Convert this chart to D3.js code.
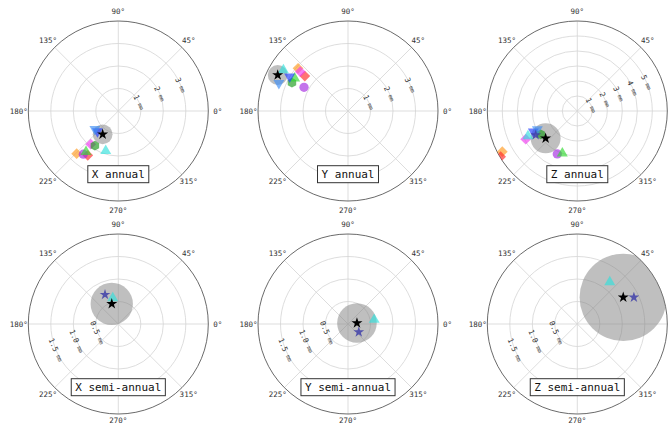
<!DOCTYPE html>
<html><head><meta charset="utf-8">
<script src="https://cdn.jsdelivr.net/npm/d3@7"></script>
<style>
html,body{margin:0;padding:0;background:#fff;}
svg{display:block;}
text{font-family:"DejaVu Sans Mono",monospace;}
</style>
</head><body>
<svg id="chart" width="668" height="426"></svg>
<script>
// ---------- data ----------
const panelTitles = ["X annual", "Y annual", "Z annual", "X semi-annual", "Y semi-annual", "Z semi-annual"];
const panelRMax = [4, 4, 6, 2, 2, 2];
const panelRTicks = [[1, 2, 3], [1, 2, 3], [1, 2, 3, 4, 5], [0.5, 1.0, 1.5], [0.5, 1.0, 1.5], [0.5, 1.0, 1.5]];
const panelRTickLabels = [
  ["1", "2", "3"], ["1", "2", "3"], ["1", "2", "3", "4", "5"],
  ["0.5", "1.0", "1.5"], ["0.5", "1.0", "1.5"], ["0.5", "1.0", "1.5"]
];
const radialUnit = "mm";
const angleTicks = [0, 45, 90, 135, 180, 225, 270, 315];
const angleTickLabels = ["0°", "45°", "90°", "135°", "180°", "225°", "270°", "315°"];

// series (drawing order)
const seriesNames = ["orange", "red", "purple", "magenta", "green hex", "green tri", "blue", "light blue", "cyan", "slate"];
const seriesShapes = ["diamond", "diamond", "circle", "diamond", "hexagon", "triangle", "triangleDown", "triangleDown", "triangle", "star"];
const seriesColors = ["#ff9a1f", "#ff2a2a", "#a52ae0", "#f03cf0", "#1a9a1a", "#2ed82e", "#1f3cff", "#3b8cf5", "#2fe0dc", "#4040a8"];

// amplitude (mm) per panel, per series (null = absent)
const amplitude = [
  [2.65, 2.39, 2.47, 1.92, 1.86, 2.31, 1.30, 1.32, 1.86, null],
  [2.92, 2.47, 2.22, 2.75, 2.79, 2.78, 3.01, 3.31, 3.40, null],
  [5.69, 5.95, 3.16, 3.92, 2.89, 2.99, 3.24, 2.93, 3.69, 3.20],
  [null, null, null, null, null, null, null, null, 0.59, 0.715],
  [null, null, null, null, null, null, null, null, 0.59, 0.30],
  [null, null, null, null, null, null, null, null, 1.18, 1.39]
];
// phase (degrees) per panel, per series
const phase = [
  [225.7, 235.4, 231.0, 230.3, 236.0, 231.6, 224.6, 218.0, 252.5, null],
  [139.5, 141.0, 151.7, 140.5, 153.2, 148.5, 149.5, 158.1, 147.6, null],
  [208.5, 210.8, 245.0, 208.7, 212.5, 250.5, 205.2, 204.6, 206.9, 210.0],
  [null, null, null, null, null, null, null, null, 102.0, 114.4],
  [null, null, null, null, null, null, null, null, 9.3, 323.0],
  [null, null, null, null, null, null, null, null, 52.3, 25.2]
];
// mean (black star) and its uncertainty circle
const meanAmplitude = [1.25, 3.51, 2.79, 0.47, 0.20, 1.18];
const meanPhase = [236.2, 152.9, 220.8, 108.0, 6.0, 30.1];
const meanSigma = [0.44, 0.44, 1.0, 0.47, 0.44, 0.97];

// ---------- drawing ----------
const W = 668, H = 426;
const svg = d3.select("#chart");
const R = 90;
const centersX = [118.3, 348, 577.3];
const centersY = [111, 324];
const angleScale = d3.scaleLinear().domain([0, 360]).range([Math.PI / 2, Math.PI / 2 - 2 * Math.PI]);

function hexagon() {
  return {
    draw(ctx, size) {
      const r = Math.sqrt(size / (1.5 * Math.sqrt(3)));
      for (let i = 0; i < 6; i++) {
        const a = Math.PI / 6 + i * Math.PI / 3;
        const x = r * Math.cos(a), y = r * Math.sin(a);
        if (i === 0) ctx.moveTo(x, y); else ctx.lineTo(x, y);
      }
      ctx.closePath();
    }
  };
}
function symbolFor(shape) {
  switch (shape) {
    case "diamond": return {path: d3.symbol(d3.symbolSquare, 58)(), rot: 45};
    case "circle": return {path: d3.symbol(d3.symbolCircle, 68)(), rot: 0};
    case "hexagon": return {path: d3.symbol(hexagon(), 62)(), rot: 0};
    case "triangle": return {path: d3.symbol(d3.symbolTriangle, 52)(), rot: 0};
    case "triangleDown": return {path: d3.symbol(d3.symbolTriangle, 52)(), rot: 180};
    case "star": return {path: d3.symbol(d3.symbolStar, 36)(), rot: 0};
  }
}

panelTitles.forEach((title, p) => {
  const cx = centersX[p % 3], cy = centersY[Math.floor(p / 3)];
  const rScale = d3.scaleLinear().domain([0, panelRMax[p]]).range([0, R]);
  const pt = (amp, ph) => d3.pointRadial(angleScale(ph), rScale(amp));
  const g = svg.append("g").attr("transform", `translate(${cx},${cy})`);

  const clipId = "clip" + p;
  g.append("clipPath").attr("id", clipId).append("circle").attr("r", R);

  // grid rings
  g.selectAll("circle.ring").data(panelRTicks[p]).join("circle")
    .attr("class", "ring").attr("r", d => rScale(d))
    .attr("fill", "none").attr("stroke", "#d4d4d4").attr("stroke-width", 0.8);
  // radial lines
  g.selectAll("line.spoke").data(angleTicks).join("line")
    .attr("class", "spoke")
    .attr("x1", 0).attr("y1", 0)
    .attr("x2", d => d3.pointRadial(angleScale(d), R)[0])
    .attr("y2", d => d3.pointRadial(angleScale(d), R)[1])
    .attr("stroke", "#d4d4d4").attr("stroke-width", 0.8);
  // outer spine
  g.append("circle").attr("r", R).attr("fill", "none").attr("stroke", "#444").attr("stroke-width", 0.8);

  // angle labels (only those that fall inside the page)
  const angData = angleTicks.map((d, i) => ({d, label: angleTickLabels[i], q: d3.pointRadial(angleScale(d), R + 9.5)}))
    .filter(o => cx + o.q[0] + 6 < W)
    .map(o => ({...o, y: Math.min(o.q[1], H - 5.5 - cy)}));
  g.selectAll("text.ang").data(angData).join("text")
    .attr("class", "ang")
    .attr("x", o => o.q[0]).attr("y", o => o.y)
    .attr("text-anchor", "middle").attr("dominant-baseline", "central")
    .attr("font-size", 7.5).attr("fill", "#333")
    .text(o => o.label);

  // radial labels
  const labAng = p < 3 ? 22.5 : 202.5;
  const rl = g.selectAll("text.rl").data(panelRTicks[p]).join("text")
    .attr("class", "rl")
    .attr("transform", d => {
      const q = d3.pointRadial(angleScale(labAng), rScale(d));
      return `translate(${q[0]},${q[1]}) rotate(67.5)`;
    })
    .attr("text-anchor", "middle").attr("dominant-baseline", "central")
    .attr("fill", "#333");
  rl.append("tspan").attr("font-size", 7.5).text((d, i) => panelRTickLabels[p][i] + " ");
  rl.append("tspan").attr("font-size", 5.5).text(radialUnit);

  const data = g.append("g").attr("clip-path", `url(#${clipId})`);
  // uncertainty circle
  const m = pt(meanAmplitude[p], meanPhase[p]);
  data.append("circle").attr("cx", m[0]).attr("cy", m[1])
    .attr("r", rScale(meanSigma[p]))
    .attr("fill", "#808080").attr("fill-opacity", 0.5);

  // series markers
  const pts = seriesNames.map((n, i) => ({i, a: amplitude[p][i], ph: phase[p][i]})).filter(d => d.a != null);
  data.selectAll("path.mk").data(pts).join("path")
    .attr("class", "mk")
    .attr("transform", d => {
      const q = pt(d.a, d.ph);
      return `translate(${q[0]},${q[1]}) rotate(${symbolFor(seriesShapes[d.i]).rot})`;
    })
    .attr("d", d => symbolFor(seriesShapes[d.i]).path)
    .attr("fill", d => seriesColors[d.i])
    .attr("fill-opacity", d => seriesShapes[d.i] === "star" ? 0.85 : 0.65);

  // mean star
  data.append("path").attr("transform", `translate(${m[0]},${m[1]})`)
    .attr("d", d3.symbol(d3.symbolStar, 38)()).attr("fill", "#000");

  // title box
  const tg = g.append("g").attr("transform", `translate(0,${63.2})`);
  const t = tg.append("text").attr("text-anchor", "middle").attr("dominant-baseline", "central")
    .attr("font-size", 11).attr("fill", "#111").text(title);
  const w = t.node().getComputedTextLength();
  tg.insert("rect", "text").attr("x", -w / 2 - 4).attr("y", -8.5).attr("width", w + 8).attr("height", 17)
    .attr("fill", "#fff").attr("stroke", "#333").attr("stroke-width", 1);
});
</script>
</body></html>
